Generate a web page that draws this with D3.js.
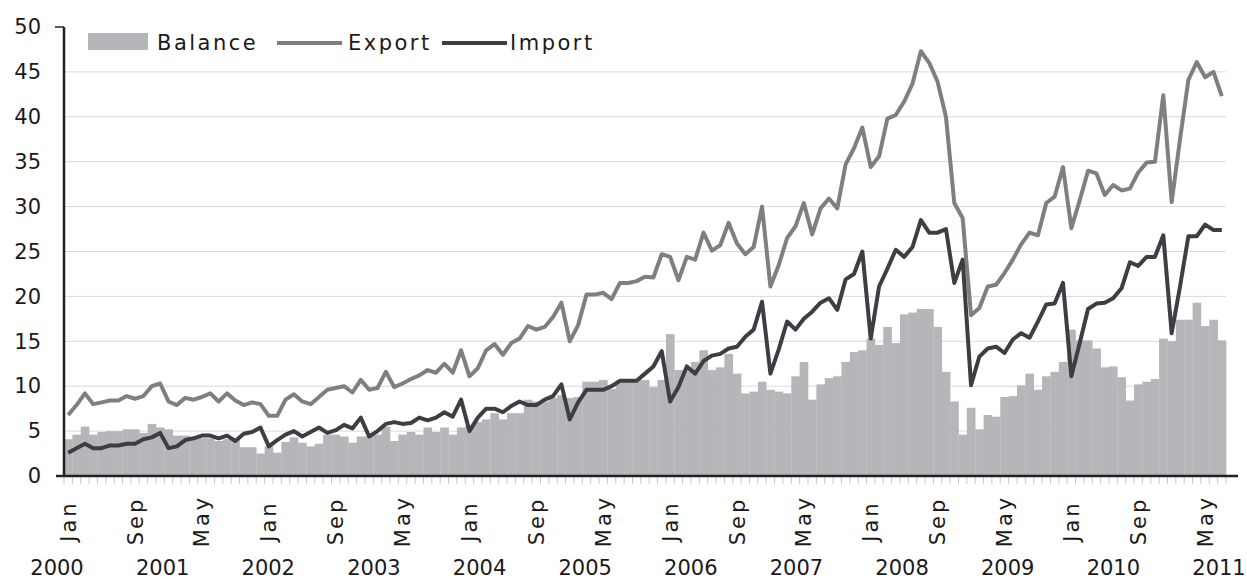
<!DOCTYPE html>
<html>
<head>
<meta charset="utf-8">
<script src="https://cdn.jsdelivr.net/npm/d3@7"></script>
<style>
  body { margin: 0; background: #fff; }
  text { font-family: "Century Gothic", "DejaVu Sans", sans-serif; fill: #1a1a1a; }
</style>
</head>
<body>
<div id="plot"></div>
<script>
// tick labels
const years = [2000, 2001, 2002, 2003, 2004, 2005, 2006, 2007, 2008, 2009, 2010, 2011];
const monthNames = ["Jan", "Feb", "Mar", "Apr", "May", "Jun", "Jul", "Aug", "Sep", "Oct", "Nov", "Dec"];
const yTicks = [0, 5, 10, 15, 20, 25, 30, 35, 40, 45, 50];

// monthly values, Jan 2000 .. Jul 2011
const balance = [
  4.1, 4.6, 5.5, 4.6, 4.9, 5.0, 5.0, 5.2, 5.2, 4.8, 5.8, 5.4,
  5.2, 4.5, 4.5, 4.3, 4.2, 4.2, 3.9, 4.1, 4.2, 3.2, 3.2, 2.5,
  3.3, 2.6, 3.8, 4.3, 3.7, 3.3, 3.6, 4.6, 4.6, 4.4, 3.7, 4.4,
  4.4, 4.6, 5.5, 3.9, 4.6, 4.9, 4.6, 5.4, 4.9, 5.4, 4.6, 5.4,
  5.6, 6.0, 6.3, 7.0, 6.3, 7.0, 7.0, 8.5, 8.3, 8.3, 8.7, 9.0,
  8.7, 8.8, 10.5, 10.5, 10.7, 9.7, 10.7, 10.7, 10.7, 10.7, 9.9, 10.7,
  15.8, 11.8, 11.8, 12.7, 14.0, 11.8, 12.1, 13.6, 11.4, 9.2, 9.4, 10.5,
  9.6, 9.4, 9.2, 11.1, 12.7, 8.5, 10.2, 10.9, 11.1, 12.7, 13.8, 14.0,
  15.3, 14.6, 16.6, 14.8, 18.0, 18.2, 18.6, 18.6, 16.6, 11.6, 8.3, 4.6,
  7.6, 5.2, 6.8, 6.6, 8.8, 8.9, 10.1, 11.4, 9.6, 11.1, 11.6, 12.7,
  16.3, 15.1, 15.1, 14.2, 12.1, 12.2, 11.0, 8.4, 10.2, 10.5, 10.8, 15.3,
  15.0, 17.4, 17.4, 19.3, 16.7, 17.4, 15.1
];

const exportValues = [
  6.8, 7.9, 9.2, 8.0, 8.2, 8.4, 8.4, 8.9, 8.6, 8.9, 10.0, 10.3,
  8.3, 7.9, 8.7, 8.5, 8.8, 9.2, 8.3, 9.2, 8.4, 7.9, 8.2, 8.0,
  6.7, 6.7, 8.5, 9.1, 8.3, 8.0, 8.8, 9.6, 9.8, 10.0, 9.3, 10.7,
  9.6, 9.8, 11.6, 9.9, 10.3, 10.8, 11.2, 11.8, 11.5, 12.5, 11.5, 14.0,
  11.1, 12.0, 14.0, 14.7, 13.5, 14.8, 15.3, 16.7, 16.3, 16.6, 17.7, 19.3,
  15.0, 16.8, 20.2, 20.2, 20.4, 19.7, 21.5, 21.5, 21.7, 22.2, 22.1, 24.7,
  24.4, 21.8, 24.4, 24.1, 27.1, 25.1, 25.7, 28.2, 25.9, 24.7, 25.5, 30.0,
  21.1, 23.5, 26.5, 27.8, 30.4, 26.9, 29.8, 30.9, 29.8, 34.7, 36.5, 38.8,
  34.4, 35.6, 39.8, 40.2, 41.7, 43.7, 47.3, 46.0, 43.9, 40.0, 30.4, 28.7,
  17.9, 18.7, 21.1, 21.3, 22.6, 24.1, 25.8, 27.1, 26.8, 30.4, 31.1, 34.4,
  27.6, 30.7, 34.0, 33.7, 31.3, 32.4, 31.8, 32.0, 33.8, 34.9, 35.0, 42.4,
  30.5, 37.5, 44.1, 46.1, 44.4, 45.0, 42.3
];

const importValues = [
  2.6, 3.1, 3.6, 3.1, 3.1, 3.4, 3.4, 3.6, 3.6, 4.1, 4.3, 4.8,
  3.1, 3.3, 4.0, 4.2, 4.5, 4.5, 4.2, 4.5, 3.9, 4.7, 4.9, 5.4,
  3.3, 4.0, 4.6, 5.0, 4.4, 4.9, 5.4, 4.8, 5.1, 5.7, 5.3, 6.5,
  4.4, 5.0, 5.8, 6.0, 5.8, 5.9, 6.5, 6.2, 6.5, 7.1, 6.6, 8.5,
  5.0, 6.5, 7.5, 7.5, 7.1, 7.8, 8.3, 7.9, 7.9, 8.5, 8.9, 10.2,
  6.3, 8.2, 9.6, 9.6, 9.6, 10.0, 10.6, 10.6, 10.6, 11.4, 12.2, 13.9,
  8.3, 9.9, 12.2, 11.4, 12.8, 13.4, 13.6, 14.2, 14.4, 15.5, 16.3, 19.4,
  11.4, 14.1, 17.2, 16.3, 17.5, 18.3, 19.3, 19.8, 18.5, 21.9, 22.5, 25.0,
  15.3, 21.1, 23.1, 25.2, 24.4, 25.5, 28.5, 27.1, 27.1, 27.5, 21.5, 24.1,
  10.1, 13.3, 14.2, 14.4, 13.7, 15.2, 15.9, 15.4, 17.2, 19.1, 19.2, 21.5,
  11.1, 14.8, 18.6, 19.2, 19.3, 19.8, 20.9, 23.8, 23.4, 24.4, 24.4, 26.8,
  15.9, 21.1, 26.7, 26.7, 28.0, 27.4, 27.4
];

const categories = balance.map((d, i) => `${monthNames[i % 12]} ${years[Math.floor(i / 12)]}`);

const width = 1247, height = 581;
const plot = { left: 64, right: 1226, top: 27, bottom: 476 };

const svg = d3.select("#plot")
  .append("svg")
    .attr("width", width)
    .attr("height", height);

// scales
const x = d3.scaleBand()
    .domain(categories)
    .range([plot.left, plot.right])
    .padding(0);

const y = d3.scaleLinear()
    .domain([0, 50])
    .range([plot.bottom, plot.top]);

// gridlines
svg.append("g")
  .selectAll("line")
  .data(yTicks.filter(d => d > 0 && d < 50))
  .join("line")
    .attr("x1", plot.left)
    .attr("x2", plot.right)
    .attr("y1", d => y(d))
    .attr("y2", d => y(d))
    .attr("stroke", "#d9d9d9")
    .attr("stroke-width", 1);

// balance bars
svg.append("g")
  .selectAll("rect")
  .data(balance)
  .join("rect")
    .attr("x", (d, i) => x(categories[i]))
    .attr("width", x.bandwidth() + 0.3)
    .attr("y", d => y(d))
    .attr("height", d => y(0) - y(d))
    .attr("fill", "#b5b6b9");

// lines
const line = d3.line()
    .x((d, i) => x(categories[i]) + x.bandwidth() / 2)
    .y(d => y(d));

svg.append("path")
  .datum(exportValues)
  .attr("fill", "none")
  .attr("stroke", "#7f7f83")
  .attr("stroke-width", 4)
  .attr("stroke-linejoin", "round")
  .attr("d", line);

svg.append("path")
  .datum(importValues)
  .attr("fill", "none")
  .attr("stroke", "#3b3e42")
  .attr("stroke-width", 4)
  .attr("stroke-linejoin", "round")
  .attr("d", line);

// minor ticks at month boundaries
svg.append("g")
  .selectAll("line")
  .data(categories.concat([null]))
  .join("line")
    .attr("x1", d => d ? x(d) : plot.right)
    .attr("x2", d => d ? x(d) : plot.right)
    .attr("y1", plot.bottom + 1)
    .attr("y2", plot.bottom + 8)
    .attr("stroke", "#c8c8c8")
    .attr("stroke-width", 1);

// x axis (month labels every 8 months)
const xAxis = svg.append("g")
  .attr("transform", `translate(0,${plot.bottom})`)
  .call(d3.axisBottom(x)
    .tickValues(categories.filter((d, i) => i % 8 === 0))
    .tickFormat(d => d.split(" ")[0])
    .tickSize(0));
xAxis.select(".domain").remove();
xAxis.selectAll("text")
  .attr("transform", "rotate(-90)")
  .attr("text-anchor", "middle")
  .attr("x", -45)
  .attr("y", 0)
  .attr("dy", "0.36em")
  .style("font-size", "21px")
  .style("letter-spacing", "3px");

// axis lines
svg.append("line")
  .attr("x1", 56).attr("x2", 1238)
  .attr("y1", plot.bottom).attr("y2", plot.bottom)
  .attr("stroke", "#222").attr("stroke-width", 2.5);
svg.append("line")
  .attr("x1", plot.left).attr("x2", plot.left)
  .attr("y1", plot.top).attr("y2", plot.bottom)
  .attr("stroke", "#222").attr("stroke-width", 2.5);
svg.append("line")
  .attr("x1", 55).attr("x2", plot.left)
  .attr("y1", y(50)).attr("y2", y(50))
  .attr("stroke", "#222").attr("stroke-width", 1.5);

// y axis labels
const yAxis = svg.append("g")
  .attr("transform", `translate(${plot.left},0)`)
  .call(d3.axisLeft(y).tickValues(yTicks).tickSize(0).tickPadding(23));
yAxis.select(".domain").remove();
yAxis.selectAll("text")
  .style("font-size", "21px");

// year labels
const yearX = d3.scalePoint().domain(years).range([57, 1219]);
svg.append("g")
  .selectAll("text")
  .data(years)
  .join("text")
    .attr("x", d => yearX(d))
    .attr("y", 575)
    .attr("text-anchor", "middle")
    .style("font-size", "21px")
    .text(d => d);

// legend
const legend = svg.append("g");
legend.append("rect")
  .attr("x", 88).attr("y", 33).attr("width", 60).attr("height", 17)
  .attr("fill", "#b5b6b9");
legend.append("text")
  .attr("x", 157).attr("y", 50)
  .style("font-size", "21px").style("letter-spacing", "2.5px")
  .text("Balance");
legend.append("line")
  .attr("x1", 277).attr("x2", 342).attr("y1", 43).attr("y2", 43)
  .attr("stroke", "#7f7f83").attr("stroke-width", 4);
legend.append("text")
  .attr("x", 348).attr("y", 50)
  .style("font-size", "21px").style("letter-spacing", "2.5px")
  .text("Export");
legend.append("line")
  .attr("x1", 442).attr("x2", 507).attr("y1", 43).attr("y2", 43)
  .attr("stroke", "#3b3e42").attr("stroke-width", 4);
legend.append("text")
  .attr("x", 510).attr("y", 50)
  .style("font-size", "21px").style("letter-spacing", "2.5px")
  .text("Import");
</script>
</body>
</html>
